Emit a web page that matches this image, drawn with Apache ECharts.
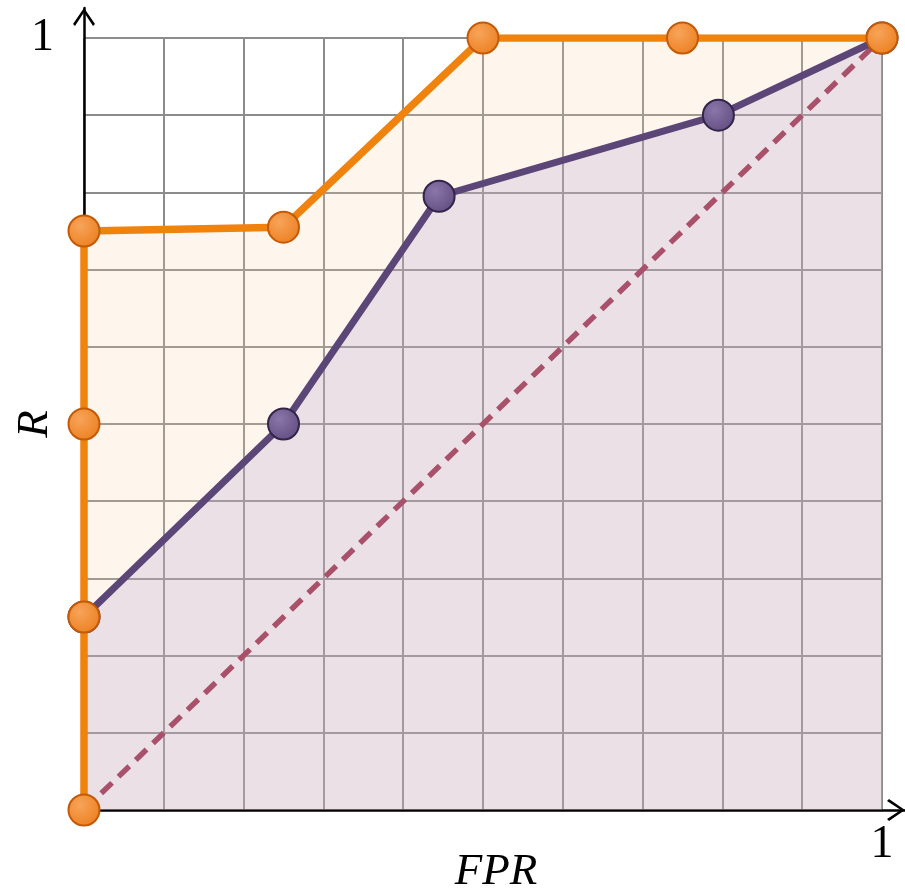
<!DOCTYPE html>
<html>
<head>
<meta charset="utf-8">
<script src="https://cdn.jsdelivr.net/npm/echarts@6/dist/echarts.min.js"></script>
<style>
  html, body { margin: 0; padding: 0; background: #ffffff; }
  #chart { width: 905px; height: 894px; }
</style>
</head>
<body>
<div id="chart"></div>
<script>
// ROC curves: false positive rate (x) against recall (y)
const fprSteps = [0, 0, 0, 0, 0.25, 0.5, 0.75, 1];
const recallSteps = [0, 0.25, 0.5, 0.75, 0.755, 1, 1, 1];

const fprSmooth = [0, 0.25, 0.445, 0.795, 1];
const recallSmooth = [0.25, 0.5, 0.795, 0.9, 1];

const fprChance = [0, 1];
const recallChance = [0, 1];

const tickValues = [1];
const xName = 'FPR';
const yName = 'R';

const zip = (xs, ys) => xs.map((x, i) => [x, ys[i]]);
const stepPts = zip(fprSteps, recallSteps);
const smoothPts = zip(fprSmooth, recallSmooth);
const chancePts = zip(fprChance, recallChance);

const serif = '"Liberation Serif", "DejaVu Serif", serif';
const chevron = 'path://M11 0 L22 16 L20 18 L11 4.2 L2 18 L0 16 Z';

const labelFmt = v => tickValues.some(t => Math.abs(t - v) < 1e-9) ? String(Math.round(v)) : '';

function ball(light, base) {
  return new echarts.graphic.RadialGradient(0.38, 0.35, 0.75, [
    { offset: 0, color: light },
    { offset: 1, color: base }
  ]);
}

const chart = echarts.init(document.getElementById('chart'), null, { renderer: 'canvas' });

chart.setOption({
  animation: false,
  backgroundColor: '#ffffff',
  grid: [
    { left: 84, top: 38, right: 23, bottom: 84, containLabel: false, outerBoundsMode: 'none' },
    { left: 84, top: 8, right: 0, bottom: 84, containLabel: false, outerBoundsMode: 'none' }
  ],
  xAxis: [
    {
      type: 'value', gridIndex: 0, min: 0, max: 1, interval: 0.1,
      axisLine: { show: false }, axisTick: { show: false },
      splitLine: { show: true, lineStyle: { color: '#8c8c8c', width: 2 } },
      axisLabel: { formatter: labelFmt, fontFamily: serif, fontSize: 46, color: '#000', margin: 12 },
      name: xName, nameLocation: 'middle', nameGap: 40, nameMoveOverlap: false,
      nameTextStyle: { fontFamily: serif, fontStyle: 'italic', fontSize: 45, color: '#000', padding: [0, 0, 0, 26] }
    },
    {
      type: 'value', gridIndex: 1, min: 0, max: 1,
      axisLine: { show: true, symbol: ['none', chevron], symbolSize: [22, 18], symbolOffset: [0, -9],
        lineStyle: { color: '#000', width: 2.5 } },
      axisTick: { show: false }, axisLabel: { show: false }, splitLine: { show: false }
    }
  ],
  yAxis: [
    {
      type: 'value', gridIndex: 0, min: 0, max: 1, interval: 0.1,
      axisLine: { show: false }, axisTick: { show: false },
      splitLine: { show: true, lineStyle: { color: '#8c8c8c', width: 2 } },
      axisLabel: { formatter: labelFmt, fontFamily: serif, fontSize: 46, color: '#000', margin: 30, padding: [6, 0, 0, 0] },
      name: yName, nameLocation: 'middle', nameGap: 26, nameRotate: 90, nameMoveOverlap: false,
      nameTextStyle: { fontFamily: serif, fontStyle: 'italic', fontSize: 45, color: '#000' }
    },
    {
      type: 'value', gridIndex: 1, min: 0, max: 1,
      axisLine: { show: true, symbol: ['none', chevron], symbolSize: [22, 18], symbolOffset: [0, -9],
        lineStyle: { color: '#000', width: 2.5 } },
      axisTick: { show: false }, axisLabel: { show: false }, splitLine: { show: false }
    }
  ],
  series: [
    {
      name: 'step area', type: 'line', xAxisIndex: 0, yAxisIndex: 0, data: stepPts,
      showSymbol: false, silent: true, z: 1,
      lineStyle: { opacity: 0 },
      areaStyle: { color: 'rgba(248,208,172,0.3)' }
    },
    {
      name: 'smooth area', type: 'line', xAxisIndex: 0, yAxisIndex: 0, data: smoothPts,
      showSymbol: false, silent: true, z: 1,
      lineStyle: { opacity: 0 },
      areaStyle: { color: 'rgba(170,150,200,0.32)' }
    },
    {
      name: 'chance', type: 'line', xAxisIndex: 0, yAxisIndex: 0, data: chancePts,
      showSymbol: false, silent: true, z: 2,
      lineStyle: { color: '#a9516b', width: 5.5, type: [15, 9] }
    },
    {
      name: 'smooth', type: 'line', xAxisIndex: 0, yAxisIndex: 0, data: smoothPts,
      symbol: 'circle', symbolSize: 31, silent: true, z: 3,
      lineStyle: { color: '#5b4677', width: 7 },
      itemStyle: { color: ball('#8a76a8', '#614b80'), borderColor: '#34244a', borderWidth: 2 },
      emphasis: { disabled: true }
    },
    {
      name: 'step', type: 'line', xAxisIndex: 0, yAxisIndex: 0, data: stepPts,
      symbol: 'circle', symbolSize: 31, silent: true, z: 4,
      lineStyle: { color: '#f0820e', width: 7.5 },
      itemStyle: { color: ball('#f7a45a', '#ec7d1c'), borderColor: '#c45a06', borderWidth: 2 },
      emphasis: { disabled: true }
    }
  ]
});
</script>
</body>
</html>
